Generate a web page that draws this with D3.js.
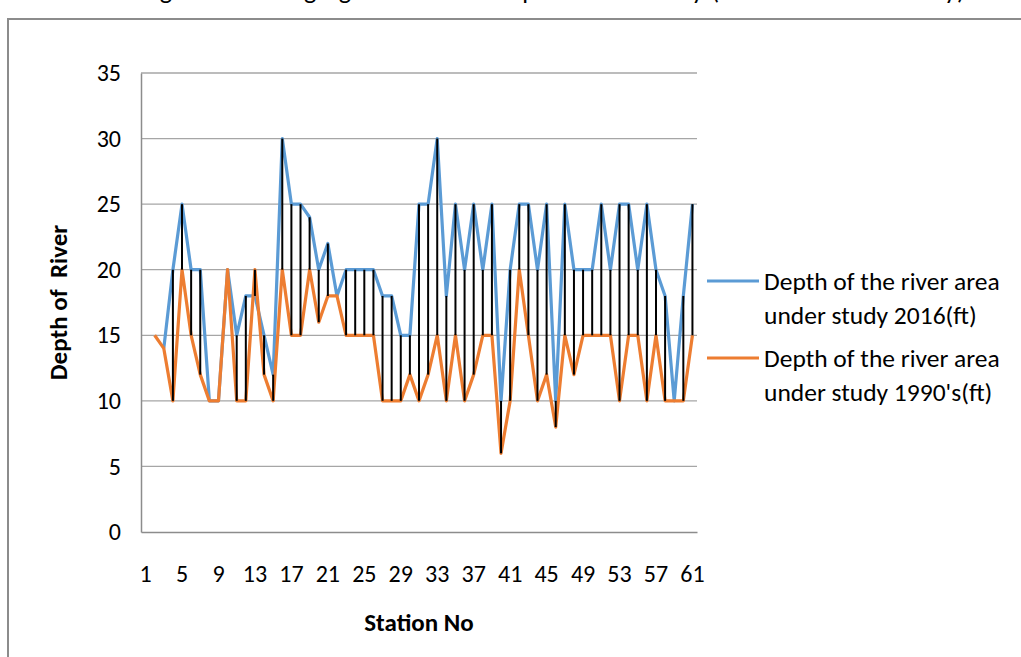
<!DOCTYPE html>
<html>
<head>
<meta charset="utf-8">
<script src="https://cdn.jsdelivr.net/npm/d3@7"></script>
<style>
  body { margin: 0; background: #fff; }
  svg { display: block; font-family: Carlito, Calibri, Lato, "Open Sans", sans-serif; }
</style>
</head>
<body>
<svg id="chart" width="1021" height="657"></svg>
<script>
// station numbers 1..61
const stations = d3.range(1, 62);

// depth of the river area under study 2016 (ft)
const depth2016 = [null, null, 14, 20, 25, 20, 20, 10, 10, 20,
  15, 18, 18, 15, 12, 30, 25, 25, 24, 20,
  22, 18, 20, 20, 20, 20, 18, 18, 15, 15,
  25, 25, 30, 18, 25, 20, 25, 20, 25, 10,
  20, 25, 25, 20, 25, 10, 25, 20, 20, 20,
  25, 20, 25, 25, 20, 25, 20, 18, 10, 18,
  25];

// depth of the river area under study 1990's (ft)
const depth1990 = [null, 15, 14, 10, 20, 15, 12, 10, 10, 20,
  10, 10, 20, 12, 10, 20, 15, 15, 20, 16,
  18, 18, 15, 15, 15, 15, 10, 10, 10, 12,
  10, 12, 15, 10, 15, 10, 12, 15, 15, 6,
  10, 20, 15, 10, 12, 8, 15, 12, 15, 15,
  15, 15, 10, 15, 15, 10, 15, 10, 10, 10,
  15];

const yTicks = [0, 5, 10, 15, 20, 25, 30, 35];
const xTickLabels = stations.filter(s => (s - 1) % 4 === 0);

const seriesNames = ["Depth of the river area|under study 2016(ft)",
                     "Depth of the river area|under study 1990's(ft)"];
const seriesColors = ["#5B9BD5", "#ED7D31"];

const svg = d3.select("#chart");

const pLeft = 141, pRight = 697, pTop = 73, pBottom = 532;

// partly cut caption above the frame
svg.append("text")
  .attr("x", 140).attr("y", -1)
  .attr("textLength", 825)
  .style("font-size", "26px")
  .style("fill", "#000")
  .text("Figure 4: Changing of the river depth under study (2016 vs 1990's study)");

// chart frame
svg.append("rect")
  .attr("x", 8).attr("y", 19)
  .attr("width", 1030).attr("height", 700)
  .attr("fill", "none")
  .attr("stroke", "#8c8c8c")
  .attr("stroke-width", 2);

const x = d3.scaleBand().domain(stations).range([pLeft, pRight]).paddingInner(0).paddingOuter(0);
const cx = d => x(d) + x.bandwidth() / 2;
const y = d3.scaleLinear().domain([0, 35]).range([pBottom, pTop]);

// gridlines
svg.append("g")
  .selectAll("line")
  .data(yTicks.filter(t => t > 0))
  .enter().append("line")
  .attr("x1", pLeft).attr("x2", pRight)
  .attr("y1", d => y(d)).attr("y2", d => y(d))
  .attr("stroke", "#a6a6a6")
  .attr("stroke-width", 1.3);

// y axis
const yAxis = svg.append("g")
  .attr("transform", "translate(" + pLeft + ",0)")
  .call(d3.axisLeft(y).tickValues(yTicks).tickSize(0).tickPadding(20));
yAxis.select(".domain").attr("stroke", "#8c8c8c").attr("stroke-width", 1.5);
yAxis.selectAll("text").style("font-size", "24px").style("fill", "#000")
  .style("font-family", "Carlito, Calibri, Lato, sans-serif");

// x axis
const xAxis = svg.append("g")
  .attr("transform", "translate(0," + pBottom + ")")
  .call(d3.axisBottom(x).tickValues(xTickLabels).tickSize(0).tickPadding(33));
xAxis.select(".domain").attr("stroke", "#8c8c8c").attr("stroke-width", 1.5);
xAxis.selectAll("text").style("font-size", "24px").style("fill", "#000")
  .style("font-family", "Carlito, Calibri, Lato, sans-serif");

// axis titles
svg.append("text")
  .attr("x", (pLeft + pRight) / 2).attr("y", 631)
  .attr("text-anchor", "middle")
  .style("font-size", "25px").style("font-weight", "bold")
  .text("Station No");

svg.append("text")
  .attr("transform", "translate(67," + ((pTop + pBottom) / 2) + ") rotate(-90)")
  .attr("text-anchor", "middle")
  .style("font-size", "25px").style("font-weight", "bold")
  .style("white-space", "pre")
  .text("Depth of  River");

// series lines
const line = d3.line()
  .defined(d => d.v !== null)
  .x(d => cx(d.s))
  .y(d => y(d.v));

[depth2016, depth1990].forEach((vals, i) => {
  svg.append("path")
    .datum(stations.map((s, k) => ({ s: s, v: vals[k] })))
    .attr("fill", "none")
    .attr("stroke", seriesColors[i])
    .attr("stroke-width", 3.2)
    .attr("stroke-linejoin", "round")
    .attr("d", line);
});

// high-low lines
const hl = stations.map((s, k) => ({ s: s, a: depth2016[k], b: depth1990[k] }))
  .filter(d => d.a !== null && d.b !== null && d.a !== d.b);

svg.append("g")
  .selectAll("line")
  .data(hl)
  .enter().append("line")
  .attr("x1", d => cx(d.s)).attr("x2", d => cx(d.s))
  .attr("y1", d => y(d.a)).attr("y2", d => y(d.b))
  .attr("stroke", "#000")
  .attr("stroke-width", 2);

// legend
const legend = svg.append("g");
[281, 358].forEach((ly, i) => {
  legend.append("line")
    .attr("x1", 707).attr("x2", 759)
    .attr("y1", ly).attr("y2", ly)
    .attr("stroke", seriesColors[i])
    .attr("stroke-width", 3.2);
  const parts = seriesNames[i].split("|");
  parts.forEach((p, j) => {
    legend.append("text")
      .attr("x", 764).attr("y", ly + j * 34)
      .attr("dy", "0.35em")
      .style("font-size", "25.5px")
      .text(p);
  });
});
</script>
</body>
</html>
